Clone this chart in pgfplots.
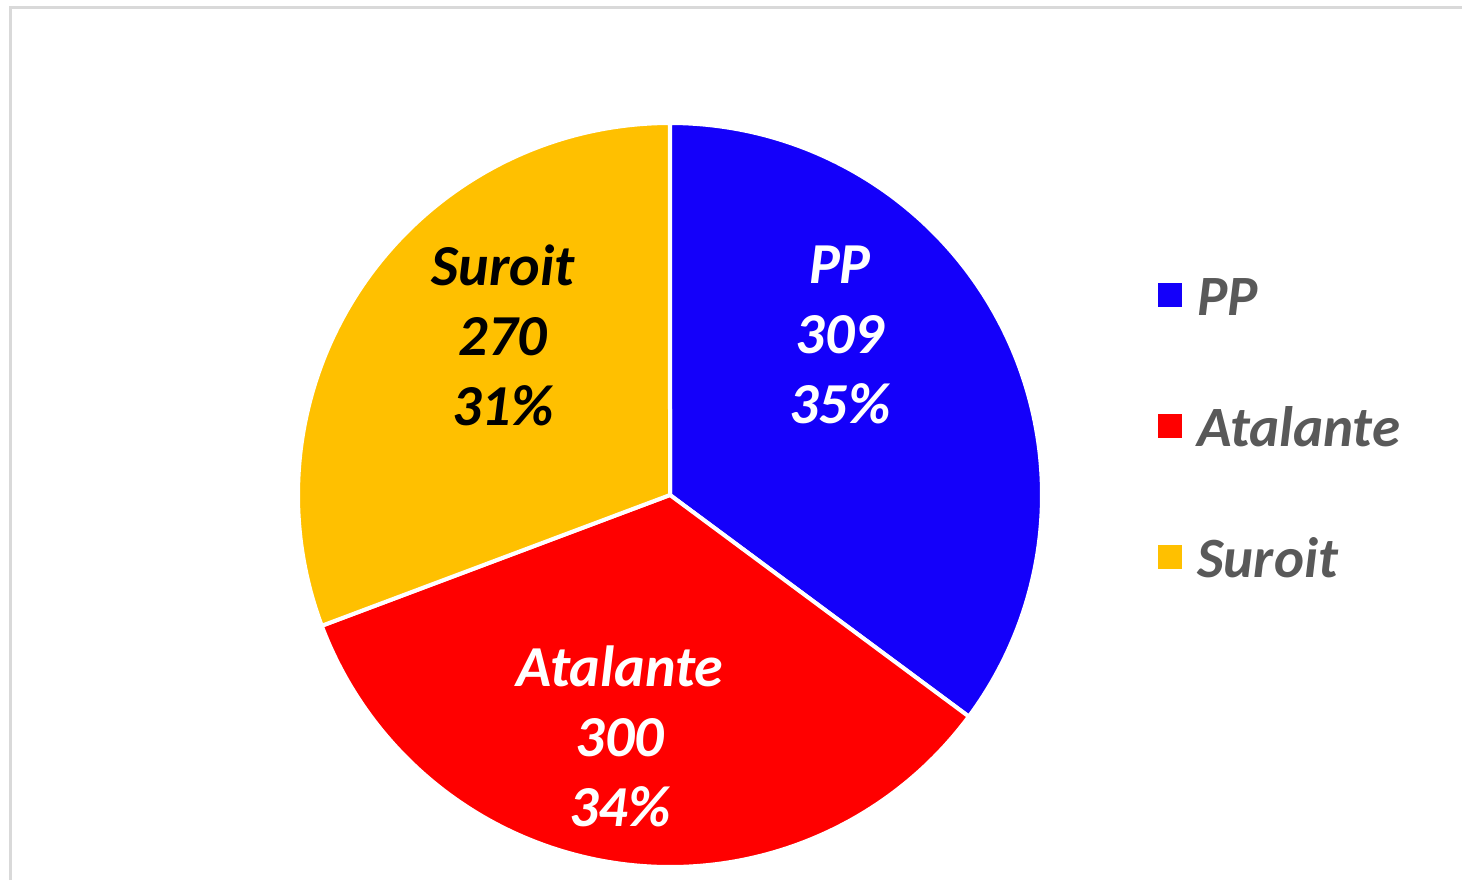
\documentclass[border=0pt]{standalone}
\usepackage{pgfplots}
\pgfplotsset{compat=1.18}
\usepackage{fontspec}
\setmainfont{Carlito}
\definecolor{ppblue}{RGB}{20,0,250}
\definecolor{atred}{RGB}{255,0,0}
\definecolor{sugold}{RGB}{255,192,0}
\definecolor{legtext}{RGB}{89,89,89}
\definecolor{frame}{RGB}{217,217,217}
% data
\def\vPP{309}
\def\vAT{300}
\def\vSU{270}
\pgfmathsetmacro{\tot}{\vPP+\vAT+\vSU}
\pgfmathsetmacro{\aA}{90}
\pgfmathsetmacro{\aB}{90-360*(\vPP/\tot)}
\pgfmathsetmacro{\aC}{\aB-360*(\vAT/\tot)}
\pgfmathsetmacro{\aD}{\aC-360*(\vSU/\tot)}
\def\cx{670}
\def\cy{495}
\def\R{372}
\begin{document}
\begin{tikzpicture}
\begin{axis}[
  scale only axis, width=731pt, height=440pt,
  xmin=0, xmax=1462, ymin=0, ymax=880, y dir=reverse,
  hide axis, clip=false,
  legend cell align=left,
  legend image code/.code={\fill[#1] (0pt,-7pt) rectangle (14pt,7pt);},
  legend style={draw=none, fill=none, at={(axis cs:1148,271)}, anchor=north west,
    font=\fontsize{28.5}{33}\selectfont\bfseries\itshape, text=legtext,
    row sep=45.5pt, nodes={inner sep=0pt, text height=20pt, text depth=0pt},
    column sep=5.5pt},
]
\draw[frame, line width=1.5pt] (axis cs:10,880) -- (axis cs:10,7.5) -- (axis cs:1462,7.5);
\addplot[fill=ppblue, draw=white, line width=2pt, domain=\aB:\aA, samples=120]
  ({\cx+\R*cos(x)}, {\cy-\R*sin(x)}) -- (axis cs:\cx,\cy) -- cycle;
\addplot[fill=atred, draw=white, line width=2pt, domain=\aC:\aB, samples=120]
  ({\cx+\R*cos(x)}, {\cy-\R*sin(x)}) -- (axis cs:\cx,\cy) -- cycle;
\addplot[fill=sugold, draw=white, line width=2pt, domain=\aD:\aC, samples=120]
  ({\cx+\R*cos(x)}, {\cy-\R*sin(x)}) -- (axis cs:\cx,\cy) -- cycle;
\addlegendimage{fill=ppblue}\addlegendentry{PP}
\addlegendimage{fill=atred}\addlegendentry{Atalante}
\addlegendimage{fill=sugold}\addlegendentry{Suroit}
\begin{scope}[every node/.style={anchor=base, font=\fontsize{29}{33}\selectfont\bfseries\itshape, inner sep=0pt}]
\node[text=white] at (axis cs:840,283) {PP};
\node[text=white] at (axis cs:840,353) {309};
\node[text=white] at (axis cs:840,423) {35\%};
\node[text=white] at (axis cs:620,686) {Atalante};
\node[text=white] at (axis cs:620,756) {300};
\node[text=white] at (axis cs:620,826) {34\%};
\node[text=black] at (axis cs:503,285) {Suroit};
\node[text=black] at (axis cs:503,355) {270};
\node[text=black] at (axis cs:503,425) {31\%};
\end{scope}
\end{axis}
\pgfresetboundingbox
\useasboundingbox (current axis.south west) rectangle (current axis.north east);
\end{tikzpicture}
\end{document}
